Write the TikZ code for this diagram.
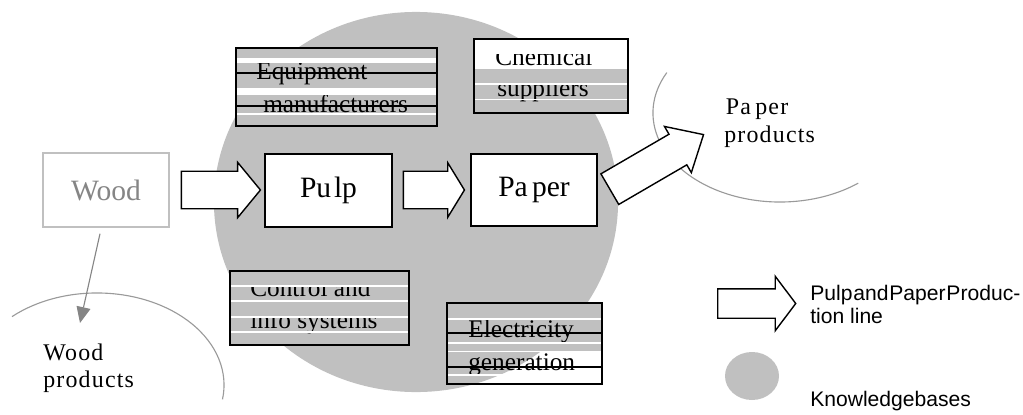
\documentclass[tikz,border=0pt]{standalone}
\usepackage{fontspec}
\setmainfont{Liberation Serif}
\setsansfont{Liberation Sans}
\usetikzlibrary{shapes.arrows,arrows.meta}
\definecolor{kbgray}{HTML}{C0C0C0}
\definecolor{linegray}{HTML}{9A9A9A}
\definecolor{woodgray}{HTML}{858585}
\newcommand{\stagefont}{\fontsize{21}{25}\selectfont}
\newcommand{\labelfont}{\fontsize{18}{22}\selectfont}
\newcommand{\prodfont}{\fontsize{17}{20}\selectfont\addfontfeature{LetterSpace=5}}
\newcommand{\legendfont}{\sffamily\fontsize{15}{18}\selectfont}

\begin{document}
\begin{tikzpicture}[x=0.025cm,y=0.025cm]
\tikzstyle{stage}=[rectangle,draw=black,line width=1pt,fill=white,inner sep=0pt,font=\stagefont]
\tikzstyle{flow}=[single arrow,draw=black,line width=1pt,fill=white,inner xsep=0pt,single arrow head indent=0pt,anchor=tail]
\tikzstyle{sector}=[rectangle,draw=black,line width=1.1pt,inner sep=0pt]
\tikzstyle{label}=[anchor=base west,inner sep=0pt,font=\labelfont]
\tikzstyle{prod}=[anchor=base west,inner sep=0pt,font=\prodfont]
\tikzstyle{legend}=[anchor=base west,inner sep=0pt,font=\legendfont]
\tikzstyle{market}=[linegray,line width=0.8pt]
\tikzstyle{strike}=[black,line width=0.9pt]
\useasboundingbox (0,0) rectangle (1023,-414);

\fill[kbgray] (416,-202) ellipse [x radius=5.05cm,y radius=4.75cm];

\coordinate (ppc) at (780,-113);
\coordinate (wpc) at (97,-385);
\draw[market] (ppc) ++(153:3.175cm and 2.225cm) arc[start angle=153,end angle=308,x radius=3.175cm,y radius=2.225cm];
\draw[market] (wpc) ++(132:3.175cm and 2.3cm) arc[start angle=132,end angle=-9,x radius=3.175cm,y radius=2.3cm];
\node[prod] (pp1) at (725.7,-114) {Pa\kern3pt per};
\node[prod] (pp2) at (724,-142.5) {products};
\node[prod] (wp1) at (43,-360) {Wood};
\node[prod] (wp2) at (43,-387) {products};

\node[stage,draw=kbgray,text=woodgray,minimum width=3.15cm,minimum height=1.85cm] (wood) at (106,-190) {Wood};
\node[stage,minimum width=3.175cm,minimum height=1.825cm] (pulp) at (328.5,-190.5) {Pu\kern2pt lp};
\node[stage,minimum width=3.15cm,minimum height=1.8cm] (paper) at (534,-190) {Pa\kern3pt per};
\node[flow,minimum height=1.975cm,inner ysep=0.45cm,single arrow head extend=0.225cm,single arrow tip angle=101] (f1) at ([shift={(11,0)}]wood.east) {};
\node[flow,minimum height=1.525cm,inner ysep=0.45cm,single arrow head extend=0.2125cm,single arrow tip angle=117] (f2) at ([shift={(10,0.5)}]pulp.east) {};
\node[flow,rotate=30.2,minimum height=2.71cm,inner ysep=0.425cm,single arrow head extend=0.225cm,single arrow tip angle=84] (f3) at ([shift={(11.5,0.5)}]paper.east) {};

\coordinate (wpend) at (80,-323);
\draw[woodgray,line width=0.8pt,-{Triangle[length=0.4cm,width=0.35cm]}] ([shift={(-6,-6)}]wood.south) -- (wpend);

\fill[kbgray] (236,-48) rectangle (437,-126);
\node[label] (eq1) at (256,-79) {Equipment};
\node[label] (eq2) at (263,-112) {manufacturers};
\foreach \a/\b in {58/63,88/94.5,113/115} \fill[white] (236,-\a) rectangle (437,-\b);
\foreach \a in {73,106} \draw[strike] (236,-\a) -- (437,-\a);
\node[sector,minimum width=5.025cm,minimum height=1.95cm] (equip) at (336.5,-87) {};

\fill[white] (474,-39) rectangle (628,-69);
\fill[kbgray] (474,-69) rectangle (628,-113);
\node[label] (ch1) at (495,-65) {Chemical};
\node[label] (ch2) at (497,-96) {suppliers};
\fill[white] (474,-39) rectangle (628,-53.5);
\fill[kbgray] (474,-69) rectangle (628,-83);
\foreach \a/\b in {83/84.6,98.5/100} \fill[white] (474,-\a) rectangle (628,-\b);
\node[sector,minimum width=3.85cm,minimum height=1.85cm] (chem) at (551,-76) {};

\fill[kbgray] (230,-271) rectangle (409,-345);
\node[label] (co1) at (250,-296.7) {Control and};
\node[label] (co2) at (250,-328.3) {info systems};
\foreach \a/\b in {271/285,302/316} \fill[kbgray] (230,-\a) rectangle (409,-\b);
\foreach \a/\b in {285/286.6,300.4/302,316/317.6,331.4/333} \fill[white] (230,-\a) rectangle (409,-\b);
\node[sector,minimum width=4.475cm,minimum height=1.85cm] (ctrl) at (319.5,-308) {};

\fill[kbgray] (447,-303) rectangle (602,-352);
\node[label] (el1) at (468,-337) {Electricity};
\node[label] (el2) at (468,-370) {generation};
\foreach \a/\b in {318/319.6,342/343.6,350.5/352,374/375.6} \fill[white] (447,-\a) rectangle (602,-\b);
\foreach \a in {333,367} \draw[strike] (447,-\a) -- (602,-\a);
\node[sector,minimum width=3.875cm,minimum height=2.025cm] (elec) at (524.5,-343.5) {};

\node[flow,minimum height=1.95cm,inner ysep=0.35cm,single arrow head extend=0.3125cm,single arrow tip angle=106] (legflow) at (717,-303.5) {};
\node[legend] (lg1) at (810,-300) {{\spaceskip=0.6pt Pulp and Paper Produc-}};
\node[legend] (lg2) at (810,-323.3) {tion line};
\fill[kbgray] (752,-376) ellipse [x radius=0.675cm,y radius=0.6cm];
\node[legend] (lg3) at (810,-406.7) {Knowledgebases};
\end{tikzpicture}
\end{document}
